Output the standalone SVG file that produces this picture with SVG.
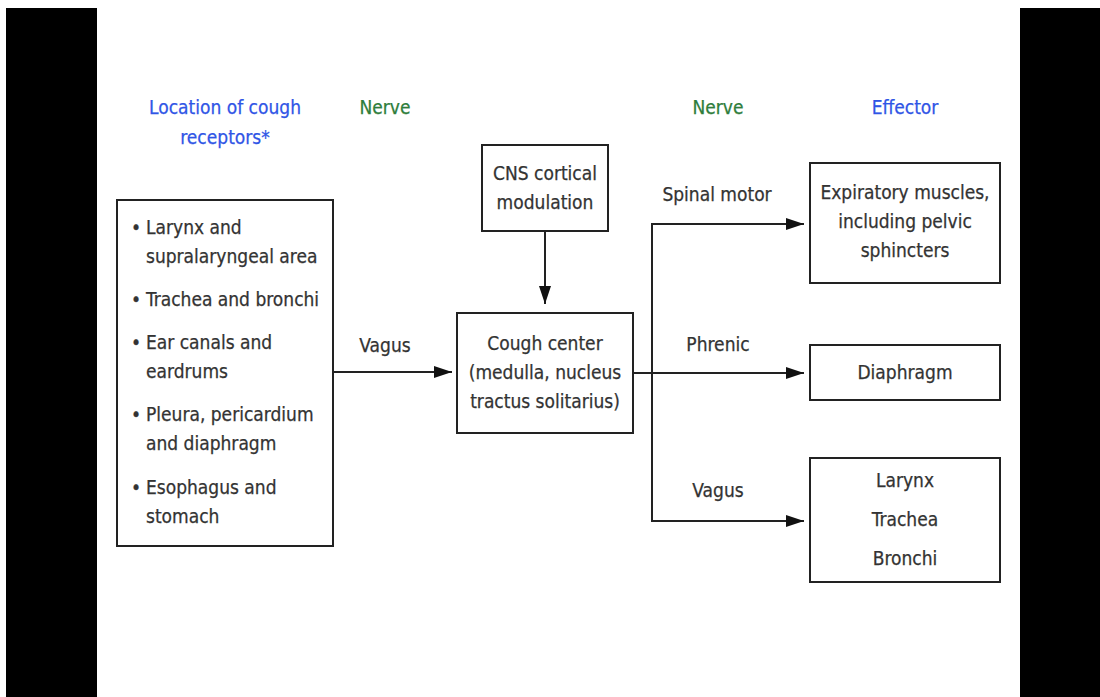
<svg xmlns="http://www.w3.org/2000/svg" width="1100" height="697" viewBox="0 0 1100 697">
<defs>
<marker id="ah" markerWidth="18" markerHeight="14" refX="18" refY="7" orient="auto" markerUnits="userSpaceOnUse">
<path d="M0,1 L18,7 L0,13 Z" fill="#111"/>
</marker>
<style>
text{font-family:"DejaVu Sans Condensed","DejaVu Sans",sans-serif;font-size:19px;fill:#333;stroke:#333;stroke-width:0.25}
.c{text-anchor:middle}
.blue{fill:#2f55e6;stroke:#2f55e6}
.green{fill:#2e7d3b;stroke:#2e7d3b}
.box{fill:#fff;stroke:#222;stroke-width:2}
.ln{fill:none;stroke:#222;stroke-width:2}
</style>
</defs>
<rect width="1100" height="697" fill="#fff"/>
<rect x="6" y="8" width="91" height="689" fill="#000"/>
<rect x="1020" y="8" width="80" height="689" fill="#000"/>
<g id="headers">
<text class="c blue" x="225" y="114">Location of cough</text>
<text class="c blue" x="225" y="144">receptors*</text>
<text class="c green" x="385" y="114">Nerve</text>
<text class="c green" x="718" y="114">Nerve</text>
<text class="c blue" x="905" y="114">Effector</text>
</g>
<g id="connectors">
<line class="ln" x1="545" y1="231" x2="545" y2="304" marker-end="url(#ah)"/>
<line class="ln" x1="333" y1="372" x2="452" y2="372" marker-end="url(#ah)"/>
<line class="ln" x1="633" y1="373" x2="804" y2="373" marker-end="url(#ah)"/>
<path class="ln" d="M652,373 L652,224 L804,224" marker-end="url(#ah)"/>
<path class="ln" d="M652,373 L652,521 L804,521" marker-end="url(#ah)"/>
<text class="c" x="385" y="352">Vagus</text>
<text class="c" x="717" y="201">Spinal motor</text>
<text class="c" x="718" y="351">Phrenic</text>
<text class="c" x="718" y="497">Vagus</text>
</g>
<g id="receptors">
<rect class="box" x="117" y="200" width="216" height="346"/>
<text x="131" y="234">•</text><text x="146" y="234">Larynx and</text>
<text x="146" y="263">supralaryngeal area</text>
<text x="131" y="306">•</text><text x="146" y="306">Trachea and bronchi</text>
<text x="131" y="349">•</text><text x="146" y="349">Ear canals and</text>
<text x="146" y="378">eardrums</text>
<text x="131" y="421">•</text><text x="146" y="421">Pleura, pericardium</text>
<text x="146" y="450">and diaphragm</text>
<text x="131" y="494">•</text><text x="146" y="494">Esophagus and</text>
<text x="146" y="523">stomach</text>
</g>
<g id="cns">
<rect class="box" x="482" y="145" width="126" height="86"/>
<text class="c" x="545" y="180">CNS cortical</text>
<text class="c" x="545" y="209">modulation</text>
</g>
<g id="cough-center">
<rect class="box" x="457" y="313" width="176" height="120"/>
<text class="c" x="545" y="350">Cough center</text>
<text class="c" x="545" y="379">(medulla, nucleus</text>
<text class="c" x="545" y="408">tractus solitarius)</text>
</g>
<g id="expiratory">
<rect class="box" x="810" y="163" width="190" height="120"/>
<text class="c" x="905" y="199">Expiratory muscles,</text>
<text class="c" x="905" y="228">including pelvic</text>
<text class="c" x="905" y="257">sphincters</text>
</g>
<g id="diaphragm">
<rect class="box" x="810" y="345" width="190" height="55"/>
<text class="c" x="905" y="379">Diaphragm</text>
</g>
<g id="airways">
<rect class="box" x="810" y="458" width="190" height="124"/>
<text class="c" x="905" y="487">Larynx</text>
<text class="c" x="905" y="526">Trachea</text>
<text class="c" x="905" y="565">Bronchi</text>
</g>
</svg>
